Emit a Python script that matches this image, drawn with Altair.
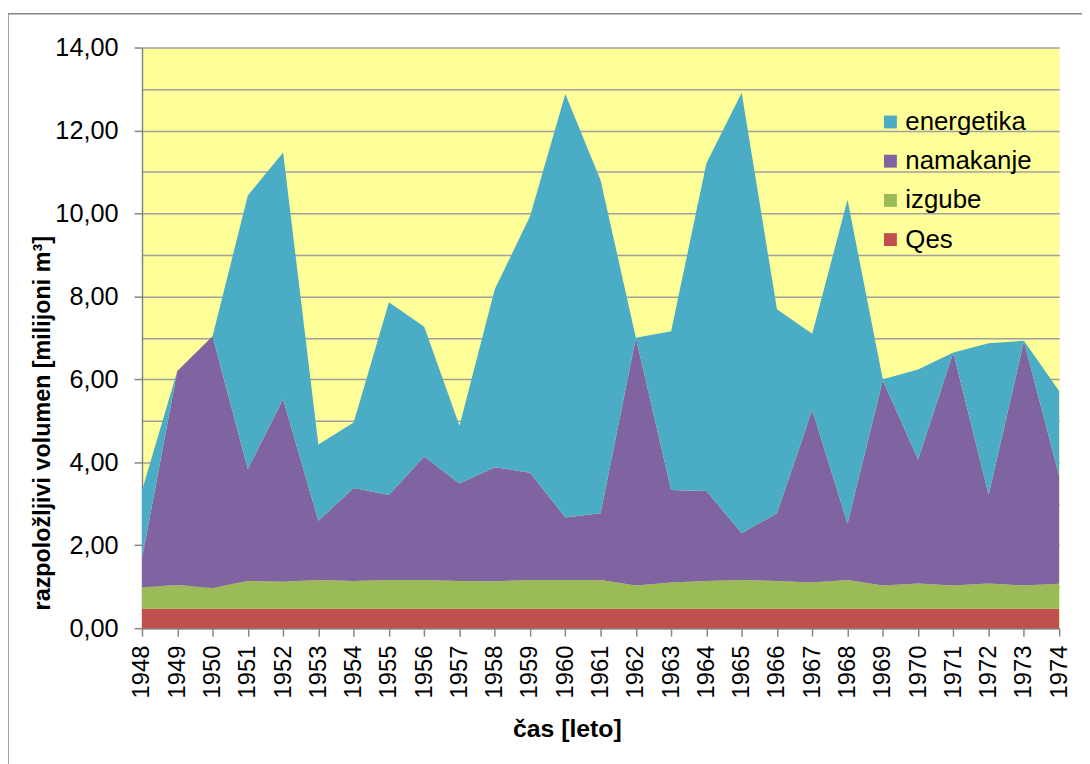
import altair as alt
import pandas as pd

years = list(range(1948, 1975))
qes = [0.47] * 27
izgube = [0.52, 0.57, 0.50, 0.67, 0.65, 0.69, 0.67, 0.69, 0.69, 0.67, 0.66, 0.69, 0.69, 0.69,
          0.56, 0.63, 0.67, 0.69, 0.67, 0.63, 0.69, 0.56, 0.61, 0.56, 0.61, 0.56, 0.60]
namakanje = [0.69, 5.16, 6.07, 2.70, 4.40, 1.43, 2.24, 2.05, 2.98, 2.35, 2.75, 2.59, 1.51, 1.61,
             5.97, 2.23, 2.17, 1.13, 1.63, 4.16, 1.36, 4.95, 2.99, 5.62, 2.14, 5.88, 2.60]
energetika = [1.64, 0.00, 0.00, 6.59, 5.95, 1.84, 1.58, 4.65, 3.13, 1.39, 4.29, 6.18, 10.21, 8.03,
              0.00, 3.83, 7.90, 10.62, 4.92, 1.84, 7.81, 0.02, 2.17, 0.00, 3.65, 0.02, 2.05]

series_names = ["energetika", "namakanje", "izgube", "Qes"]
series_colors = ["#4BACC6", "#8064A2", "#9BBB59", "#C0504D"]
stack_order = {"Qes": 0, "izgube": 1, "namakanje": 2, "energetika": 3}
series_values = {"Qes": qes, "izgube": izgube, "namakanje": namakanje, "energetika": energetika}

rows = []
for name, vals in series_values.items():
    for y, v in zip(years, vals):
        rows.append({"leto": y, "vrednost": v, "serija": name, "red": stack_order[name]})
df = pd.DataFrame(rows)

FONT = "Liberation Sans"

areas = alt.Chart(df).mark_area(opacity=1).encode(
    x=alt.X("leto:Q",
            scale=alt.Scale(domain=[1948, 1974], nice=False, zero=False),
            axis=alt.Axis(values=years, format="d", labelAngle=270, labelAlign="right",
                          labelBaseline="middle", labelFontSize=24, labelPadding=9,
                          tickSize=8, tickColor="#868686", tickWidth=1.5,
                          domainColor="#868686", domainWidth=1.5, grid=False,
                          title="čas [leto]", titleFontSize=25, titleFontWeight="bold",
                          titleX=428, titleY=101, titleBaseline="middle", titleAlign="center",
                          labelColor="black", titleColor="black")),
    y=alt.Y("vrednost:Q", stack="zero",
            scale=alt.Scale(domain=[0, 14], nice=False),
            axis=alt.Axis(values=list(range(0, 15)),
                          labelExpr="datum.value % 2 == 0 ? replace(format(datum.value, '.2f'), '.', ',') : ''",
                          labelFontSize=25.5, labelPadding=16, labelColor="black",
                          tickSize=8, tickColor="#868686", tickWidth=1.5,
                          tickOpacity={"condition": {"test": "datum.value % 2 == 1", "value": 0}, "value": 1},
                          domainColor="#868686", domainWidth=1.5,
                          grid=True, gridColor="#a0a0a0", gridWidth=1.5,
                          title="razpoložljivi volumen [milijoni m³]", titleFontSize=23.5,
                          titleFontWeight="bold", titleColor="black",
                          titleX=-100, titleY=378, titleAngle=270,
                          titleBaseline="middle", titleAlign="center")),
    color=alt.Color("serija:N",
                    scale=alt.Scale(domain=series_names, range=series_colors),
                    legend=alt.Legend(title=None, orient="none", legendX=741, legendY=62,
                                      symbolType="square", symbolSize=169, symbolStrokeWidth=0,
                                      labelFontSize=26, labelOffset=2, rowPadding=13.5,
                                      padding=0, labelColor="black")),
    order=alt.Order("red:Q"),
)

frame = alt.Chart(alt.Data(values=[{}])).mark_rect(
    fill="transparent", stroke="#868686", strokeWidth=1.5, clip=False
).encode(
    x=alt.value(-135), x2=alt.value(960), y=alt.value(-34), y2=alt.value(740)
)

chart = alt.layer(areas, frame).properties(
    width=924, height=585,
    padding={"left": 135, "top": 37, "right": 23, "bottom": 134},
    autosize=alt.AutoSizeParams(type="none"),
    background="white",
).configure(
    font=FONT,
    view=alt.ViewConfig(fill="#FFFF99", stroke="transparent"),
)

chart.save("out.html", embed_options={"renderer": "svg", "actions": False})
